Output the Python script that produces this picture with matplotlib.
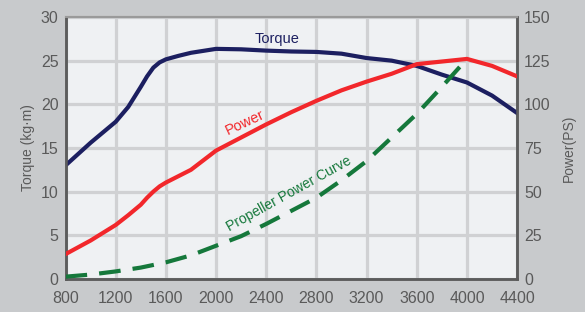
import matplotlib.pyplot as plt

# -------------------------------
# Data
# -------------------------------
rpm_torque = [800, 1000, 1200, 1300, 1400, 1450, 1500, 1550, 1600, 1700, 1800, 2000,
              2200, 2400, 2600, 2800, 3000, 3200, 3400, 3600, 3800, 4000, 4200, 4400]
torque_kgm = [13.0, 15.6, 18.0, 19.7, 22.0, 23.2, 24.2, 24.8, 25.15, 25.55, 25.9, 26.35,
              26.3, 26.15, 26.05, 26.0, 25.8, 25.3, 25.0, 24.4, 23.4, 22.5, 21.0, 19.0]

rpm_power = [800, 1000, 1200, 1300, 1400, 1450, 1500, 1550, 1600, 1800, 2000, 2200,
             2400, 2600, 2800, 3000, 3200, 3400, 3600, 3800, 4000, 4200, 4400]
power_ps = [14.2, 22.0, 30.9, 36.5, 42.5, 46.5, 50.0, 53.0, 55.2, 62.5, 73.5, 81.0,
            88.5, 95.5, 102.0, 108.0, 113.0, 117.5, 123.0, 124.5, 126.0, 122.0, 116.0]

rpm_prop = [800, 1000, 1200, 1400, 1600, 1800, 2000, 2200, 2400, 2600, 2800,
            3000, 3200, 3400, 3600, 3800, 4000]
prop_ps = [1.3, 2.5, 4.3, 6.5, 9.5, 13.5, 19.0, 24.5, 31.5, 39.0, 46.5,
           56.5, 67.5, 81.0, 94.5, 110.0, 126.0]

rpm_ticks = [800, 1200, 1600, 2000, 2400, 2800, 3200, 3600, 4000, 4400]
torque_ticks = [0, 5, 10, 15, 20, 25, 30]
power_ticks = [0, 25, 50, 75, 100, 125, 150]

# -------------------------------
# Style
# -------------------------------
plt.rcParams["font.family"] = ["Liberation Sans", "DejaVu Sans"]
navy = "#1c1f60"
red = "#f2272b"
green = "#15783b"
tick_grey = "#5a5a5a"

fig = plt.figure(figsize=(5.85, 3.12), dpi=100, facecolor="#c8cacc")
ax = fig.add_axes([0.112, 0.106, 0.772, 0.8395])
ax.set_facecolor("#eff1f3")
ax2 = ax.twinx()
ax2.patch.set_visible(False)

# -------------------------------
# Curves
# -------------------------------
ax.plot(rpm_torque, torque_kgm, color=navy, lw=3.0, solid_joinstyle="round", zorder=3)
ax2.plot(rpm_power, power_ps, color=red, lw=3.0, solid_joinstyle="round", zorder=3)
ax2.plot(rpm_prop, prop_ps, color=green, lw=3.0, dashes=(5.2, 2.9),
         dash_capstyle="butt", zorder=3)

# -------------------------------
# Axes
# -------------------------------
ax.set_xlim(800, 4400)
ax.set_ylim(0, 30)
ax2.set_ylim(0, 150)
ax.set_xticks(rpm_ticks)
ax.set_yticks(torque_ticks)
ax2.set_yticks(power_ticks)

ax.grid(True, color="#d0d1d3", lw=2.3)
ax.set_axisbelow(True)

for a in (ax, ax2):
    a.tick_params(length=0, labelsize=11.5, labelcolor=tick_grey)
    for side in ("left", "bottom", "right"):
        a.spines[side].set_color("#5c5c5c")
        a.spines[side].set_linewidth(1.8)
    a.spines["top"].set_color("#9a9a9a")
    a.spines["top"].set_linewidth(1.5)
ax.tick_params(axis="y", pad=5)
ax.tick_params(axis="x", pad=9)
ax2.tick_params(axis="y", pad=5)

ax.set_ylabel("Torque (kg·m)", fontsize=10, color=tick_grey, labelpad=4)
ax2.set_ylabel("Power(PS)", fontsize=10, color=tick_grey, labelpad=8)

# -------------------------------
# In-plot labels
# -------------------------------
ax.text(2486, 27.5, "Torque", color=navy, fontsize=10.5, ha="center", va="center")
ax2.text(2231, 89.5, "Power", color=red, fontsize=10.5, ha="center", va="center",
         rotation=25)
ax2.text(2582, 49, "Propeller Power Curve", color=green, fontsize=10,
         ha="center", va="center", rotation=29)

fig.savefig("out.png", dpi=100, facecolor=fig.get_facecolor())
